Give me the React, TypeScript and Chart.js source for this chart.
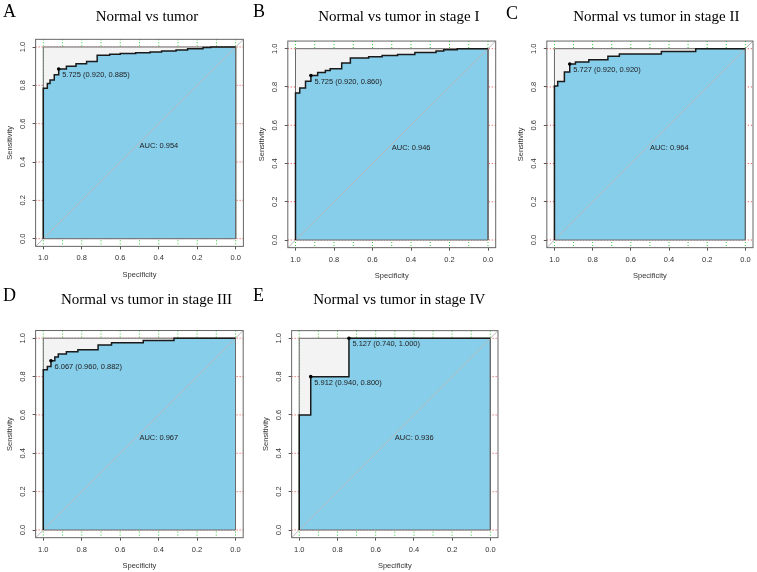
import React, { useEffect, useRef } from "react";
import { Chart, registerables } from "chart.js";

Chart.register(...registerables);

const SANS = "'Liberation Sans', Arial, Helvetica, sans-serif";
const SERIF = "'Liberation Serif', 'Times New Roman', serif";
Chart.defaults.font.family = SANS;

// ---------------- data ----------------
const letters = ["A", "B", "C", "D", "E"];
const titles = [
  "Normal vs tumor",
  "Normal vs tumor in stage I",
  "Normal vs tumor in stage II",
  "Normal vs tumor in stage III",
  "Normal vs tumor in stage IV",
];
const aucValues = [0.954, 0.946, 0.964, 0.967, 0.936];

// ROC corner points (specificity, sensitivity), specificity decreasing
const specA = [1, 1, 0.979, 0.965, 0.943, 0.92, 0.88, 0.83, 0.775, 0.72, 0.655, 0.6, 0.52, 0.445, 0.385, 0.31, 0.25, 0.17, 0.13, 0];
const sensA = [0, 0.785, 0.809, 0.828, 0.855, 0.885, 0.899, 0.912, 0.925, 0.957, 0.962, 0.966, 0.97, 0.974, 0.979, 0.985, 0.991, 0.997, 1, 1];

const specB = [1, 1, 0.978, 0.948, 0.92, 0.885, 0.845, 0.82, 0.76, 0.715, 0.62, 0.55, 0.47, 0.38, 0.27, 0.23, 0.16, 0];
const sensB = [0, 0.768, 0.795, 0.83, 0.86, 0.876, 0.886, 0.895, 0.925, 0.952, 0.958, 0.965, 0.97, 0.98, 0.988, 0.994, 1, 1];

const specC = [1, 1, 0.983, 0.948, 0.92, 0.89, 0.82, 0.72, 0.66, 0.44, 0.26, 0];
const sensC = [0, 0.805, 0.828, 0.878, 0.92, 0.93, 0.942, 0.96, 0.972, 0.985, 1, 1];

const specD = [1, 1, 0.979, 0.96, 0.94, 0.922, 0.88, 0.82, 0.715, 0.645, 0.48, 0.32, 0];
const sensD = [0, 0.835, 0.852, 0.882, 0.902, 0.918, 0.93, 0.94, 0.965, 0.976, 0.988, 1, 1];

const specE = [1, 1, 0.94, 0.74, 0];
const sensE = [0, 0.6, 0.8, 1, 1];

// best thresholds
const thrA = [5.725];
const thrSpecA = [0.92];
const thrSensA = [0.885];
const thrB = [5.725];
const thrSpecB = [0.92];
const thrSensB = [0.86];
const thrC = [5.727];
const thrSpecC = [0.92];
const thrSensC = [0.92];
const thrD = [6.067];
const thrSpecD = [0.96];
const thrSensD = [0.882];
const thrE = [5.912, 5.127];
const thrSpecE = [0.94, 0.74];
const thrSensE = [0.8, 1.0];

const tickValues = [0, 0.2, 0.4, 0.6, 0.8, 1.0];
const specGrid = [0, 0.1, 0.2, 0.3, 0.4, 0.5, 0.6, 0.7, 0.8, 0.9, 1.0];
const sensGrid = [0, 0.2, 0.4, 0.6, 0.8, 1.0];
const maxFillSpec = [1, 0];
const maxFillSens = [1, 1];
const maxBorderSpec = [1, 1, 0, 0, 1];
const maxBorderSens = [0, 1, 1, 0, 0];
const AXIS_MIN = -0.04;
const AXIS_MAX = 1.04;

const series = [
  { spec: specA, sens: sensA, thr: thrA, thrSpec: thrSpecA, thrSens: thrSensA },
  { spec: specB, sens: sensB, thr: thrB, thrSpec: thrSpecB, thrSens: thrSensB },
  { spec: specC, sens: sensC, thr: thrC, thrSpec: thrSpecC, thrSens: thrSensC },
  { spec: specD, sens: sensD, thr: thrD, thrSpec: thrSpecD, thrSens: thrSensD },
  { spec: specE, sens: sensE, thr: thrE, thrSpec: thrSpecE, thrSens: thrSensE },
];

// ---------------- layout (page pixels) ----------------
// cell: [left, top, width, height]; plot: pixel of spec=1, spec=0, sens=1, sens=0
const layouts = [
  { cell: [0, 0, 252, 285], plot: [43.3, 235.7, 47, 238.7], letter: [3, 16.7], title: [147, 16.7] },
  { cell: [252, 0, 250, 285], plot: [295.5, 488, 48.7, 240], letter: [253, 16.7], title: [398.8, 17.3] },
  { cell: [502, 0, 255, 285], plot: [554.5, 746.5, 48.7, 240], letter: [506, 19.3], title: [656.3, 17.3] },
  { cell: [0, 285, 252, 287], plot: [43.3, 235.5, 338.2, 530], letter: [3, 301], title: [146.5, 300] },
  { cell: [252, 285, 250, 287], plot: [299.3, 491.3, 338.3, 530], letter: [253, 301], title: [399.3, 300] },
];

const FS = 7.5;

function pts(xs: number[], ys: number[]) {
  return xs.map((x, i) => ({ x, y: ys[i] }));
}

function PanelChart({ idx }: { idx: number }) {
  const ref = useRef<HTMLCanvasElement | null>(null);
  const L = layouts[idx];
  const S = series[idx];
  const [cl, ct, cw, ch] = L.cell;

  useEffect(() => {
    const [dL, dR, dT, dB] = L.plot;
    const bw = dR - dL;
    const bh = dB - dT;
    const boxL = dL - 0.04 * bw;
    const boxR = dR + 0.04 * bw;
    const boxT = dT - 0.04 * bh;
    const boxB = dB + 0.04 * bh;
    const yW = boxL - cl;
    const xH = ct + ch - boxB;
    const lh = FS * 1.2;
    const xTitlePad = Math.max(0, ct + ch - (boxB + 28.5) - lh / 2);
    const yTitlePad = Math.max(0, boxL - 26 - cl - lh / 2);

    const decor = {
      id: "decor" + idx,
      beforeDatasetsDraw(chart: any) {
        const { ctx, chartArea: a, scales } = chart;
        ctx.save();
        ctx.lineWidth = 1;
        ctx.setLineDash([1, 2]);
        ctx.strokeStyle = "#2fc52f";
        for (const v of specGrid) {
          const x = scales.x.getPixelForValue(v);
          ctx.beginPath();
          ctx.moveTo(x, a.top);
          ctx.lineTo(x, a.bottom);
          ctx.stroke();
        }
        ctx.strokeStyle = "#e04040";
        for (const v of sensGrid) {
          const y = scales.y.getPixelForValue(v);
          ctx.beginPath();
          ctx.moveTo(a.left, y);
          ctx.lineTo(a.right, y);
          ctx.stroke();
        }
        ctx.restore();
      },
      afterDatasetsDraw(chart: any) {
        const { ctx, chartArea: a, scales } = chart;
        ctx.save();
        // plot box
        ctx.strokeStyle = "#666";
        ctx.lineWidth = 1;
        ctx.strokeRect(a.left, a.top, a.right - a.left, a.bottom - a.top);
        // threshold labels
        ctx.fillStyle = "#222";
        ctx.font = `${FS}px ${SANS}`;
        ctx.textAlign = "left";
        ctx.textBaseline = "middle";
        S.thr.forEach((t, i) => {
          const px = scales.x.getPixelForValue(S.thrSpec[i]);
          const py = scales.y.getPixelForValue(S.thrSens[i]);
          const txt = `${t.toFixed(3)} (${S.thrSpec[i].toFixed(3)}, ${S.thrSens[i].toFixed(3)})`;
          ctx.fillText(txt, px + 3.5, py + 6);
        });
        // AUC label
        const ax = scales.x.getPixelForValue(0.5);
        const ay = scales.y.getPixelForValue(0.5);
        ctx.fillText(`AUC: ${aucValues[idx].toFixed(3)}`, ax, ay + 3.5);
        ctx.restore();
      },
      afterDraw(chart: any) {
        const { ctx, chartArea: a, scales } = chart;
        ctx.save();
        // rotated y tick labels
        ctx.fillStyle = "#333";
        ctx.font = `${FS}px ${SANS}`;
        ctx.textAlign = "center";
        ctx.textBaseline = "middle";
        for (const v of tickValues) {
          const y = scales.y.getPixelForValue(v);
          ctx.save();
          ctx.translate(a.left - 12.5, y);
          ctx.rotate(-Math.PI / 2);
          ctx.fillText(v.toFixed(1), 0, 0);
          ctx.restore();
        }
        // panel letter
        ctx.fillStyle = "#000";
        ctx.font = `18px ${SERIF}`;
        ctx.textAlign = "left";
        ctx.textBaseline = "alphabetic";
        ctx.fillText(letters[idx], L.letter[0] - cl, L.letter[1] - ct);
        // title
        ctx.font = `15px ${SERIF}`;
        ctx.textAlign = "center";
        ctx.textBaseline = "middle";
        ctx.fillText(titles[idx], L.title[0] - cl, L.title[1] - ct);
        ctx.restore();
      },
    };

    const chart = new Chart(ref.current as HTMLCanvasElement, {
      type: "line",
      data: {
        datasets: [
          {
            label: "max",
            data: pts(maxFillSpec, maxFillSens),
            fill: "origin",
            backgroundColor: "#f3f3f3",
            borderColor: "rgba(0,0,0,0)",
            borderWidth: 1,
            pointRadius: 0,
            order: 6,
          },
          {
            label: "aucFill",
            data: pts(S.spec, S.sens),
            stepped: "before",
            fill: "origin",
            backgroundColor: "#87CEEB",
            borderColor: "rgba(0,0,0,0)",
            borderWidth: 1,
            pointRadius: 0,
            order: 5,
          },
          {
            label: "maxBorder",
            data: pts(maxBorderSpec, maxBorderSens),
            fill: false,
            borderColor: "#6a6a6a",
            borderWidth: 1,
            pointRadius: 0,
            order: 4,
          },
          {
            label: "identity",
            data: [
              { x: AXIS_MAX, y: 1 - AXIS_MAX },
              { x: AXIS_MIN, y: 1 - AXIS_MIN },
            ],
            fill: false,
            borderColor: "#b8b8b8",
            borderWidth: 1,
            pointRadius: 0,
            order: 3,
          },
          {
            label: "roc",
            data: pts(S.spec, S.sens),
            stepped: "before",
            fill: false,
            borderColor: "#1a1a1a",
            borderWidth: 1.5,
            pointRadius: 0,
            order: 2,
          },
          {
            label: "threshold",
            data: pts(S.thrSpec, S.thrSens),
            showLine: false,
            fill: false,
            pointRadius: 1.8,
            pointBackgroundColor: "#000",
            pointBorderWidth: 0,
            borderColor: "#000",
            order: 1,
          },
        ] as any,
      },
      options: {
        responsive: false,
        animation: false,
        events: [],
        layout: {
          padding: { left: 0, top: boxT - ct, right: cl + cw - boxR, bottom: 0 },
        },
        plugins: {
          legend: { display: false },
          title: { display: false },
          tooltip: { enabled: false },
        },
        scales: {
          x: {
            type: "linear",
            reverse: true,
            min: AXIS_MIN,
            max: AXIS_MAX,
            afterBuildTicks: (s: any) => {
              s.ticks = tickValues.map((v) => ({ value: v }));
            },
            afterFit: (s: any) => {
              s.height = xH;
            },
            ticks: {
              autoSkip: false,
              maxRotation: 0,
              minRotation: 0,
              padding: 4.5,
              color: "#333",
              font: { size: FS, family: SANS },
              callback: (v: any) => Number(v).toFixed(1),
            },
            grid: {
              display: true,
              drawOnChartArea: false,
              drawTicks: true,
              tickLength: 3,
              tickColor: "#555",
              tickWidth: 1,
            },
            border: { display: false },
            title: {
              display: true,
              text: "Specificity",
              color: "#333",
              font: { size: FS, family: SANS },
              padding: { top: 0, bottom: xTitlePad },
            },
          },
          y: {
            type: "linear",
            min: AXIS_MIN,
            max: AXIS_MAX,
            afterBuildTicks: (s: any) => {
              s.ticks = tickValues.map((v) => ({ value: v }));
            },
            afterFit: (s: any) => {
              s.width = yW;
            },
            ticks: { display: false },
            grid: {
              display: true,
              drawOnChartArea: false,
              drawTicks: true,
              tickLength: 3,
              tickColor: "#555",
              tickWidth: 1,
            },
            border: { display: false },
            title: {
              display: true,
              text: "Sensitivity",
              color: "#333",
              font: { size: FS, family: SANS },
              padding: { top: yTitlePad, bottom: 0 },
            },
          },
        },
      } as any,
      plugins: [decor],
    });
    return () => chart.destroy();
  }, []);

  return (
    <canvas
      ref={ref}
      width={cw}
      height={ch}
      style={{ position: "absolute", left: cl, top: ct, width: cw, height: ch }}
    />
  );
}

export default function App() {
  return (
    <div
      style={{
        position: "absolute",
        left: 0,
        top: 0,
        width: 757,
        height: 572,
        overflow: "hidden",
        background: "#fff",
      }}
    >
      {layouts.map((_, i) => (
        <PanelChart key={i} idx={i} />
      ))}
    </div>
  );
}
